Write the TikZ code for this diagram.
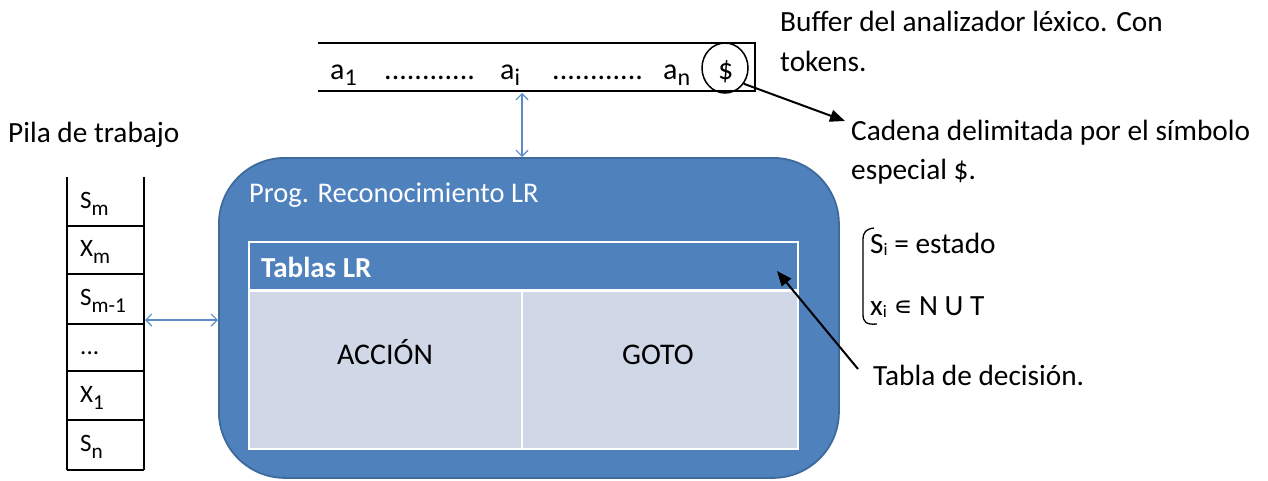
\documentclass[tikz,border=0pt]{standalone}
\usepackage{fontspec}
\usepackage{graphicx}
\setmainfont{Carlito}
\newfontfamily\symfont{DejaVu Sans}
\usetikzlibrary{arrows.meta,shapes.geometric}
\definecolor{boxblue}{HTML}{4F81BD}
\definecolor{boxedge}{HTML}{3E6A9E}
\definecolor{cellfill}{HTML}{D0D8E8}
\definecolor{linkblue}{HTML}{5B8BC8}
\newcommand{\sbs}[3][0.8]{\raisebox{-#3em}{\scalebox{#1}{#2}}}
\tikzset{
  lbl/.style={inner sep=0pt, anchor=base west, font=\fontsize{29.3}{34}\selectfont},
  buf/.style={inner sep=0pt, anchor=base west, font=\fontsize{30}{36}\selectfont},
  stk/.style={inner sep=0pt, anchor=base west, font=\fontsize{25}{30}\selectfont},
  link/.style={linkblue, line width=1.2pt, {Straight Barb[length=6pt,width=12pt]}-{Straight Barb[length=6pt,width=12pt]}},
  callout/.style={black, line width=2pt, -{Triangle[length=15pt,width=12pt]}},
  wline/.style={white, line width=2pt}
}
\begin{document}
\begin{tikzpicture}[x=1pt,y=-1pt]
\useasboundingbox[fill=white] (0,0) rectangle (1268,480);

% ---- buffer ----
\draw[line width=1.3pt] (318,43) -- (755,43) -- (755,91) -- (318,91);
\node[inner sep=0pt, minimum width=437pt, minimum height=48pt, anchor=north west] (buffer) at (318,43) {};
\node[buf] (a1) at (330,79) {a\sbs{1}{0.22}};
\node[buf] (d1) at (384,79) {............};
\node[buf] (ai) at (500,79) {a\sbs{i}{0.22}};
\node[buf] (d2) at (552,79) {............};
\node[buf] (an) at (663,79) {a\sbs{n}{0.22}};
\node[buf] (dol) at (718,79) {\$};
\node[draw, line width=1.5pt, ellipse, minimum width=46pt, minimum height=50pt, inner sep=0pt] (circ) at (725,68) {};

% ---- right labels ----
\node[lbl] (buf1) at (780,31) {Buffer del analizador léxico. Con};
\node[lbl] (buf2) at (780,71) {tokens.};
\node[lbl] (cad1) at (851,140) {Cadena delimitada por el símbolo};
\node[lbl] (cad2) at (851,179) {especial \$.};
\node[lbl] (si) at (870,253) {S\sbs[0.6]{i}{0.1} = estado};
\node[lbl] (xi) at (870,315) {x\sbs[0.6]{i}{0.1} {\symfont\scalebox{0.9}{∊}} N U T};
\node[lbl] (tdec) at (873,385) {Tabla de decisión.};
\draw[line width=1.3pt] (874,228) .. controls (866,229) and (863,232) .. (863,240) -- (863,314) .. controls (863,322) and (866,325) .. (877,324);

% ---- stack ----
\node[lbl] (pila) at (8,142) {Pila de trabajo};
\draw[line width=1.3pt] (67,177) -- (67,470) (144,177) -- (144,470);
\foreach \y in {226,274,324,371,420,470} \draw[line width=1.3pt] (67,\y) -- (144,\y);
\node[stk] (c1) at (80,208) {S\sbs[0.85]{m}{0.3}};
\node[stk] (c2) at (80,256) {X\sbs[0.85]{m}{0.3}};
\node[stk] (c3) at (80,305) {S\sbs[0.85]{m-1}{0.3}};
\node[stk] (c4) at (80,354) {...};
\node[stk] (c5) at (80,402) {X\sbs[0.85]{1}{0.3}};
\node[stk] (c6) at (80,451) {S\sbs[0.85]{n}{0.3}};
\coordinate (stackE) at (145,320);

% ---- main box ----
\node[draw=boxedge, line width=1.8pt, fill=boxblue, rounded corners=66pt, minimum width=620pt, minimum height=320pt, anchor=north west, inner sep=0pt] (prog) at (218,157) {};
\node[inner sep=0pt, anchor=base west, text=white, font=\fontsize{28.5}{34}\selectfont] (progt) at (249,202) {Prog. Reconocimiento LR};

% table
\node[fill=boxblue, draw=white, line width=1.5pt, minimum width=549pt, minimum height=48pt, anchor=north west, inner sep=0pt] (hdr) at (248,241) {};
\node[inner sep=0pt, anchor=base west, text=white, font=\fontsize{29}{34}\selectfont\bfseries] (hdrt) at (261,277) {Tablas LR};
\node[fill=cellfill, draw=white, line width=1.5pt, minimum width=273pt, minimum height=158pt, anchor=north west, inner sep=0pt] (acc) at (248,290) {};
\node[fill=cellfill, draw=white, line width=1.5pt, minimum width=276pt, minimum height=158pt, anchor=north west, inner sep=0pt] (gto) at (521,290) {};
\draw[wline] (248,290) -- (797,290);
\node[inner sep=0pt, anchor=base, font=\fontsize{30}{34}\selectfont] (acct) at (385,364) {ACCIÓN};
\node[inner sep=0pt, anchor=base, font=\fontsize{30}{34}\selectfont] (gtot) at (658,364) {GOTO};

% ---- connectors ----
\coordinate (bufLink) at (522,93);
\draw[link] (bufLink) -- (bufLink |- prog.north);
\draw[link] (stackE) -- (prog.west |- stackE);
\coordinate (circOut) at (circ.-40);
\coordinate (cadIn) at (845,121);
\draw[callout] (circOut) -- (cadIn);
\coordinate (tdecTail) at (858,369);
\coordinate (hdrPt) at (777,271);
\draw[callout] (tdecTail) -- (hdrPt);
\end{tikzpicture}
\end{document}
